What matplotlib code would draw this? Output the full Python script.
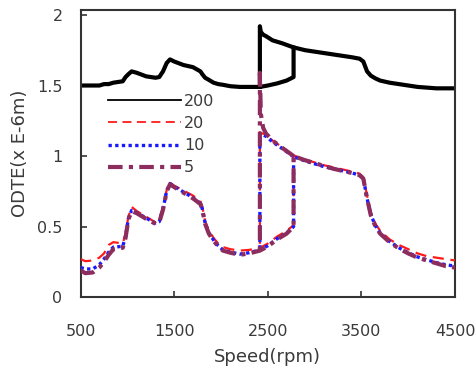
import matplotlib
matplotlib.use("Agg")
import matplotlib.pyplot as plt
from matplotlib.lines import Line2D

# ---- data ----
speed_low = [500, 550, 630, 700, 750, 800, 850, 950, 980, 1010, 1045, 1100, 1200, 1300,
             1340, 1380, 1420, 1455, 1500, 1600, 1700, 1780, 1800, 1830, 1870, 1920,
             1970, 2020, 2100, 2200, 2300, 2415, 2500, 2600, 2700, 2775]
odte200_low = [1.50, 1.50, 1.50, 1.50, 1.51, 1.51, 1.52, 1.53, 1.56, 1.58, 1.60, 1.59, 1.565, 1.555,
               1.56, 1.60, 1.66, 1.685, 1.67, 1.645, 1.63, 1.60, 1.58, 1.555, 1.54, 1.52,
               1.51, 1.505, 1.495, 1.49, 1.49, 1.49, 1.50, 1.515, 1.535, 1.56]
odte20_low = [0.27, 0.255, 0.26, 0.28, 0.31, 0.37, 0.39, 0.38, 0.45, 0.57, 0.64, 0.61, 0.57, 0.53,
              0.55, 0.64, 0.76, 0.81, 0.79, 0.755, 0.72, 0.68, 0.64, 0.54, 0.47, 0.42,
              0.38, 0.355, 0.34, 0.33, 0.335, 0.35, 0.38, 0.43, 0.47, 0.51]
odte10_low = [0.21, 0.20, 0.20, 0.23, 0.27, 0.32, 0.355, 0.36, 0.43, 0.555, 0.615, 0.60, 0.56, 0.525,
              0.535, 0.625, 0.755, 0.805, 0.785, 0.745, 0.705, 0.665, 0.625, 0.525, 0.455, 0.405,
              0.365, 0.335, 0.32, 0.305, 0.315, 0.335, 0.365, 0.415, 0.455, 0.50]
odte5_low = [0.19, 0.17, 0.175, 0.21, 0.25, 0.30, 0.34, 0.35, 0.42, 0.55, 0.61, 0.595, 0.555, 0.52,
             0.53, 0.62, 0.75, 0.80, 0.78, 0.74, 0.70, 0.66, 0.62, 0.52, 0.45, 0.40,
             0.36, 0.33, 0.315, 0.30, 0.31, 0.33, 0.36, 0.41, 0.45, 0.50]

speed_up = [2415, 2425, 2450, 2480, 2550, 2650, 2775, 2900, 3000, 3100, 3200, 3300, 3400,
            3480, 3520, 3560, 3600, 3650, 3700, 3800, 3900, 4000, 4100, 4200, 4300, 4400, 4500]
odte200_up = [1.92, 1.88, 1.86, 1.85, 1.82, 1.80, 1.77, 1.75, 1.74, 1.73, 1.72, 1.71, 1.70,
              1.69, 1.67, 1.60, 1.57, 1.55, 1.535, 1.52, 1.51, 1.50, 1.49, 1.485, 1.48, 1.48, 1.48]
odte20_up = [1.17, 1.16, 1.16, 1.15, 1.11, 1.065, 1.005, 0.975, 0.955, 0.935, 0.92, 0.905, 0.89,
             0.875, 0.85, 0.72, 0.60, 0.52, 0.47, 0.41, 0.37, 0.34, 0.31, 0.29, 0.28, 0.27, 0.26]
odte10_up = [1.16, 1.15, 1.15, 1.14, 1.10, 1.055, 0.995, 0.965, 0.945, 0.925, 0.91, 0.895, 0.88,
             0.865, 0.84, 0.70, 0.585, 0.505, 0.455, 0.395, 0.35, 0.315, 0.285, 0.265, 0.245, 0.23, 0.22]
odte5_up = [1.59, 1.30, 1.20, 1.16, 1.11, 1.06, 1.00, 0.97, 0.95, 0.93, 0.91, 0.895, 0.88,
            0.865, 0.84, 0.70, 0.58, 0.50, 0.45, 0.39, 0.345, 0.31, 0.28, 0.26, 0.24, 0.22, 0.21]

jump_down_speed = 2415
jump_up_speed = 2775

labels = ["200", "20", "10", "5"]
x_ticks = [500, 1500, 2500, 3500, 4500]
y_ticks = [0, 0.5, 1, 1.5, 2]
y_ticklabels = ["0", "0.5", "1", "1.5", "2"]

# ---- styles ----
styles = [
    dict(color="black", lw=3.0, ls="-", z=2, leg_lw=1.3),
    dict(color="#ff1a1a", lw=1.6, ls=(0, (5, 3)), z=3, leg_lw=1.3),
    dict(color="#1a1aff", lw=2.4, ls=(0, (1, 1)), z=4, leg_lw=2.4),
    dict(color="#8c2d5e", lw=3.0, ls=(0, (3.5, 1.5, 1, 1.5)), z=5, leg_lw=3.0),
]

fig = plt.figure(figsize=(4.77, 3.71), dpi=100)
ax = fig.add_axes([0.169, 0.199, 0.785, 0.774])

lows = [odte200_low, odte20_low, odte10_low, odte5_low]
ups = [odte200_up, odte20_up, odte10_up, odte5_up]

iu = speed_up.index(jump_up_speed)
il = speed_low.index(jump_down_speed)
handles = []
for low, up, st, lab in zip(lows, ups, styles, labels):
    # increasing sweep: lower branch, jump up, upper branch
    x1 = speed_low + speed_up[iu:]
    y1 = low + up[iu:]
    # decreasing sweep section: upper branch down to the drop, then to lower branch
    x2 = speed_up[:iu + 1][::-1] + [speed_low[il]]
    y2 = up[:iu + 1][::-1] + [low[il]]
    ax.plot(x1, y1, color=st["color"], lw=st["lw"], ls=st["ls"], zorder=st["z"])
    ax.plot(x2, y2, color=st["color"], lw=st["lw"], ls=st["ls"], zorder=st["z"])
    handles.append(Line2D([], [], color=st["color"], lw=st["leg_lw"], ls=st["ls"]))

ax.set_xlim(500, 4500)
ax.set_ylim(0, 2.035)
ax.set_xticks(x_ticks)
ax.set_xticklabels([str(t) for t in x_ticks])
ax.set_yticks(y_ticks)
ax.set_yticklabels(y_ticklabels)

text_color = "#3a3a3a"
ax.tick_params(axis="both", direction="in", length=4, width=1.2, labelsize=11.5,
               labelcolor=text_color, color="#333333")
ax.tick_params(axis="x", pad=19)
ax.tick_params(axis="y", pad=13)
for sp in ax.spines.values():
    sp.set_linewidth(1.5)
    sp.set_color("#333333")

ax.set_xlabel("Speed(rpm)", fontsize=13, color=text_color, labelpad=7)
ax.set_ylabel("ODTE(x E-6m)", fontsize=13, color=text_color, labelpad=6)

leg = ax.legend(handles, labels, loc="upper left", bbox_to_anchor=(0.073, 0.708),
                frameon=False, fontsize=11.5, handlelength=4.6, handletextpad=0.15,
                labelspacing=0.45, borderpad=0, borderaxespad=0)
for t in leg.get_texts():
    t.set_color(text_color)

fig.savefig("out.png", dpi=100)
